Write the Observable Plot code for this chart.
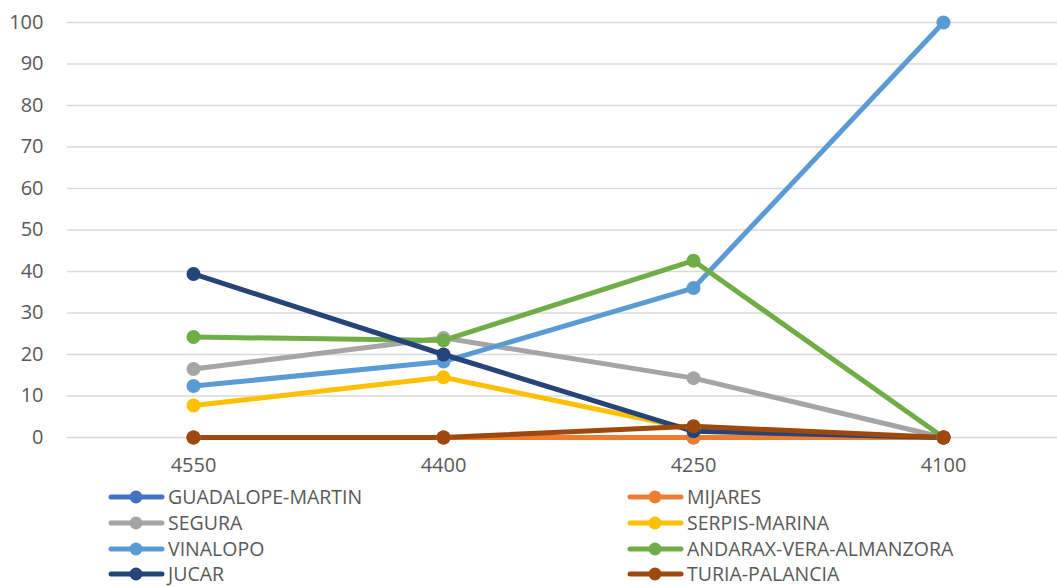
<!DOCTYPE html>
<html><head><meta charset="utf-8">
<script src="https://cdn.jsdelivr.net/npm/d3@7"></script>
<script src="https://cdn.jsdelivr.net/npm/@observablehq/plot@0.6"></script>
<style>
body{margin:0;background:#fff;font-family:"Open Sans",sans-serif;}
#wrap{position:relative;width:1057px;height:587px;overflow:hidden;}
.leg{position:absolute;display:flex;align-items:center;font-size:19.5px;line-height:22px;color:#595959;white-space:nowrap;}
.leg span{display:block;line-height:22px;}
.leg svg{margin-right:3px;}
</style></head><body>
<div id="wrap"></div>
<script>
const categories = ["4550", "4400", "4250", "4100"];
const seriesNames = ["GUADALOPE-MARTIN","MIJARES","SEGURA","SERPIS-MARINA","VINALOPO","ANDARAX-VERA-ALMANZORA","JUCAR","TURIA-PALANCIA"];
const seriesColors = ["#4472C4","#ED7D31","#A5A5A5","#FFC000","#5B9BD5","#70AD47","#264478","#9E480E"];
const guadalope = [0, 0, 0, 0];
const mijares = [0, 0, 0, 0];
const segura = [16.5, 24.0, 14.3, 0];
const serpis = [7.7, 14.5, 2.0, 0];
const vinalopo = [12.4, 18.3, 36.0, 100];
const andarax = [24.2, 23.4, 42.6, 0];
const jucar = [39.4, 20.0, 1.5, 0];
const turia = [0, 0, 2.7, 0];
const yTicks = [0,10,20,30,40,50,60,70,80,90,100];

const allValues = [guadalope, mijares, segura, serpis, vinalopo, andarax, jucar, turia];
const data = [];
seriesNames.forEach((s, i) => categories.forEach((c, j) => data.push({series: s, cat: c, value: allValues[i][j]})));

const W = 1057, H = 485;
const chart = Plot.plot({
  width: W, height: H,
  marginLeft: 67, marginRight: 0, marginTop: 22, marginBottom: 48,
  style: {fontFamily: '"Open Sans",sans-serif', fontSize: "20px", color: "#595959", background: "#fff"},
  x: {type: "point", domain: categories, range: [192, 944], padding: 0, label: null},
  y: {domain: [0, 100], label: null},
  color: {domain: seriesNames, range: seriesColors},
  marks: [
    Plot.ruleY(yTicks, {stroke: "#d9d9d9", strokeWidth: 1.3, strokeOpacity: 1}),
    Plot.axisY(yTicks, {tickSize: 0, tickPadding: 24, fontSize: 20, fill: "#595959", label: null}),
    Plot.axisX({tickSize: 0, tickPadding: 20, fontSize: 20, fill: "#595959", label: null}),
    Plot.line(data, {x: "cat", y: "value", z: "series", stroke: "series", strokeWidth: 5, strokeLinejoin: "round", strokeLinecap: "round"}),
    Plot.dot(data, {x: "cat", y: "value", fill: "series", r: 7})
  ]
});
const wrap = document.getElementById("wrap");
wrap.appendChild(chart);

const rowsY = [497, 523, 549, 574];
seriesNames.forEach((s, i) => {
  const col = i % 2, row = Math.floor(i / 2);
  const d = document.createElement("div");
  d.className = "leg";
  d.style.left = (col === 0 ? 108 : 627) + "px";
  d.style.top = (rowsY[row] - 11) + "px";
  d.style.height = "22px";
  d.innerHTML = `<svg width="57" height="14"><line x1="3" y1="7" x2="54" y2="7" stroke="${seriesColors[i]}" stroke-width="5" stroke-linecap="round"/><circle cx="28" cy="7" r="6.5" fill="${seriesColors[i]}"/></svg><span>${s}</span>`;
  wrap.appendChild(d);
});
</script>
</body></html>
